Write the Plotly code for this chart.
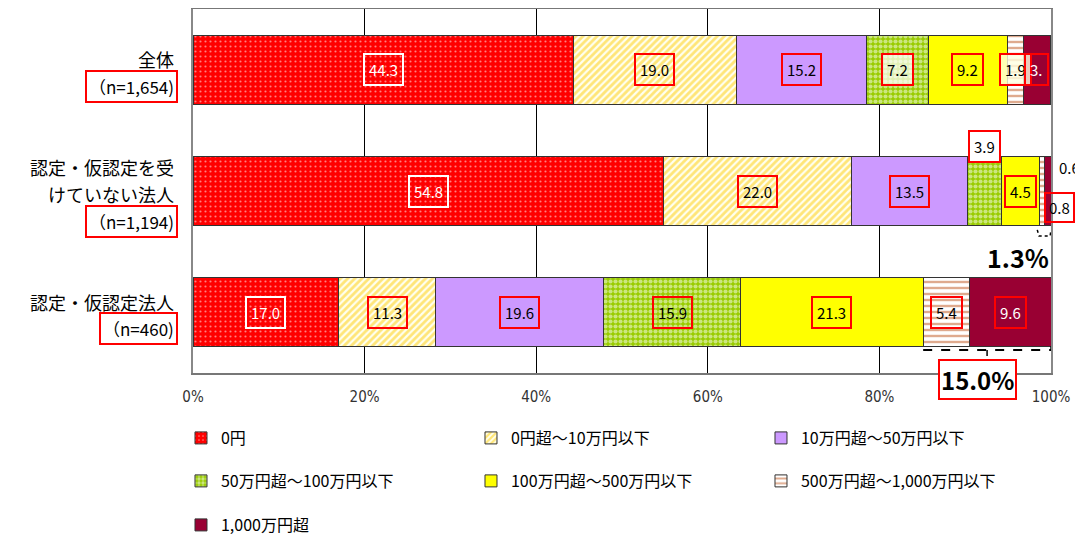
import plotly.graph_objects as go

# ---------------- data ----------------
categories = ["全体", "認定・仮認定を受けていない法人", "認定・仮認定法人"]
category_lines = [["全体"], ["認定・仮認定を受", "けていない法人"], ["認定・仮認定法人"]]
n_labels = ["（n=1,654)", "（n=1,194)", "（n=460)"]

series_names = ["0円", "0円超～10万円以下", "10万円超～50万円以下", "50万円超～100万円以下",
                "100万円超～500万円以下", "500万円超～1,000万円以下", "1,000万円超"]
v_zero = [44.3, 54.8, 17.0]
v_0_10 = [19.0, 22.0, 11.3]
v_10_50 = [15.2, 13.5, 19.6]
v_50_100 = [7.2, 3.9, 15.9]
v_100_500 = [9.2, 4.5, 21.3]
v_500_1000 = [1.9, 0.6, 5.4]
v_1000 = [3.1, 0.8, 9.6]
values = [v_zero, v_0_10, v_10_50, v_50_100, v_100_500, v_500_1000, v_1000]

x_tickvals = [0, 20, 40, 60, 80, 100]
x_ticktext = ["0%", "20%", "40%", "60%", "80%", "100%"]

callout_texts = ["1.3%", "15.0%"]

# ---------------- styles ----------------
FONT = "Noto Sans CJK JP, Noto Sans, sans-serif"
colors = ["#FF0000", "#FFFFF0", "#CC99FF", "#99CC00", "#FFFF00", "#FFFFFF", "#990033"]
patterns = [
    dict(shape=".", fgcolor="#FFFFFF", size=5, solidity=0.15, fillmode="overlay"),
    dict(shape="/", fgcolor="#FFCC00", size=5, solidity=0.55, fillmode="overlay"),
    None,
    dict(shape=".", fgcolor="#FFFFFF", size=5, solidity=0.55, fillmode="overlay"),
    None,
    dict(shape="-", fgcolor="#C0561E", size=6, solidity=0.4, fillmode="overlay"),
    None,
]
legend_ids = ["legend", "legend", "legend", "legend2", "legend2", "legend2", "legend3"]

fig = go.Figure()
for i, name in enumerate(series_names):
    marker = dict(color=colors[i], line=dict(color="#333333", width=1))
    if patterns[i] is not None:
        marker["pattern"] = patterns[i]
    fig.add_trace(go.Bar(
        y=categories, x=values[i], name=name, orientation="h",
        marker=marker, legend=legend_ids[i], hoverinfo="skip",
    ))

# ---------------- value labels ----------------
overrides = {
    (0, 3): dict(bg="rgba(255,255,255,0.7)"),
    (0, 5): dict(bg="rgba(255,255,225,0.8)"),
    (0, 6): dict(text="3."),
    (1, 3): dict(dy=45, bg="#FFFFFF"),
    (1, 5): dict(anchor_right=True, dx=2, dy=24, border=False),
    (1, 6): dict(anchor_right=True, dx=-7, dy=-16, pad=3),
}
annotations = []
for r, cat in enumerate(categories):
    cum = 0.0
    for s in range(len(series_names)):
        v = values[s][r]
        center = cum + v / 2
        cum += v
        o = overrides.get((r, s), {})
        if s == 0:
            fc, bc = "#FFFFFF", "#FFFFFF"
        elif s == 6:
            fc, bc = "#FFFFFF", "#FF0000"
        else:
            fc, bc = "#000000", "#FF0000"
        if o.get("anchor_right"):
            fc = "#000000"
        ann = dict(
            x=center, y=cat, xref="x", yref="y",
            text=o.get("text", f"{v:.1f}"), showarrow=False,
            font=dict(family=FONT, size=15, color=fc),
            bordercolor=bc if o.get("border", True) else "rgba(0,0,0,0)",
            borderwidth=2, borderpad=o.get("pad", 4),
            bgcolor=o.get("bg", "rgba(0,0,0,0)"),
            yshift=o.get("dy", 0), xshift=o.get("dx", 0),
        )
        if o.get("anchor_right"):
            ann["x"] = 100
            ann["xanchor"] = "left"
        annotations.append(ann)

# ---------------- category labels ----------------
LINE = 27
for r, cat in enumerate(categories):
    lines = category_lines[r] + [n_labels[r]]
    n = len(lines)
    for i, t in enumerate(lines):
        off = (i - (n - 1) / 2) * LINE + 3
        is_n = i == n - 1
        annotations.append(dict(
            x=0, xref="paper", y=cat, yref="y", xanchor="right",
            xshift=-15, yshift=-off, text=t, showarrow=False,
            font=dict(family=FONT, size=17 if is_n else 18, color="#000000"),
            bordercolor="#FF0000" if is_n else "rgba(0,0,0,0)",
            borderwidth=2, borderpad=2,
        ))

# ---------------- callouts ----------------
annotations.append(dict(
    x=100, y=categories[1], xref="x", yref="y", xanchor="right",
    yshift=-66, text=f"<b>{callout_texts[0]}</b>", showarrow=False,
    font=dict(family=FONT, size=25, color="#000000"),
))
start_big = sum(values[s][2] for s in range(5))
annotations.append(dict(
    x=(start_big + 100) / 2, y=categories[2], xref="x", yref="y",
    xshift=-10, yshift=-67, text=f"<b>{callout_texts[1]}</b>", showarrow=False,
    font=dict(family=FONT, size=24, color="#000000"),
    bordercolor="#FF0000", borderwidth=2, borderpad=1, bgcolor="#FFFFFF",
))

shapes = []
yb = 2.31
shapes.append(dict(type="line", xref="x", yref="y", x0=start_big, x1=100, y0=yb, y1=yb,
                   line=dict(color="#000000", width=2, dash="dash")))
mid = (start_big + 100) / 2
shapes.append(dict(type="line", xref="x", yref="y", x0=mid, x1=mid, y0=yb, y1=yb + 0.05,
                   line=dict(color="#000000", width=1.5)))
shapes.append(dict(type="line", xref="x", yref="y", x0=100, x1=100, y0=yb, y1=yb - 0.03,
                   line=dict(color="#000000", width=1.5)))
start_small = sum(values[s][1] for s in range(5))
shapes.append(dict(type="path", xref="x", yref="y",
                   path=f"M {start_small - 0.3},1.32 L {start_small - 0.1},1.37 L 99.9,1.37 L 100,1.32",
                   line=dict(color="#000000", width=1.5, dash="dot")))

# page body has an 8px margin, so the figure is 8px smaller than the window
legend_common = dict(orientation="h", xanchor="left", x=-0.014, yanchor="middle",
                     entrywidth=245, entrywidthmode="pixels", bgcolor="rgba(0,0,0,0)",
                     font=dict(family=FONT, size=16, color="#000000"), itemclick=False,
                     itemdoubleclick=False, traceorder="normal")

fig.update_layout(
    width=1075, height=530,
    margin=dict(l=185, r=32, t=1, b=165, autoexpand=False),
    paper_bgcolor="#FFFFFF", plot_bgcolor="#FFFFFF",
    barmode="stack", bargap=0.43,
    showlegend=True,
    legend=dict(legend_common, y=-0.1786),
    legend2=dict(legend_common, y=-0.2967),
    legend3=dict(legend_common, y=-0.4176),
    xaxis=dict(range=[0, 100], tickvals=x_tickvals, ticktext=x_ticktext,
               showgrid=True, gridcolor="#000000", gridwidth=1,
               showline=True, linecolor="#777777", linewidth=2, mirror=True,
               zeroline=False, ticks="", ticklabelstandoff=9,
               tickfont=dict(family="Liberation Sans Narrow, DejaVu Sans Condensed, sans-serif",
                             size=15, color="#333333")),
    yaxis=dict(categoryorder="array", categoryarray=categories, range=[2.5, -0.5],
               showticklabels=False, showgrid=False, showline=True, linecolor="#888888",
               linewidth=2, mirror=True, zeroline=False),
    annotations=annotations,
    shapes=shapes,
)

fig.write_html("out.html")
